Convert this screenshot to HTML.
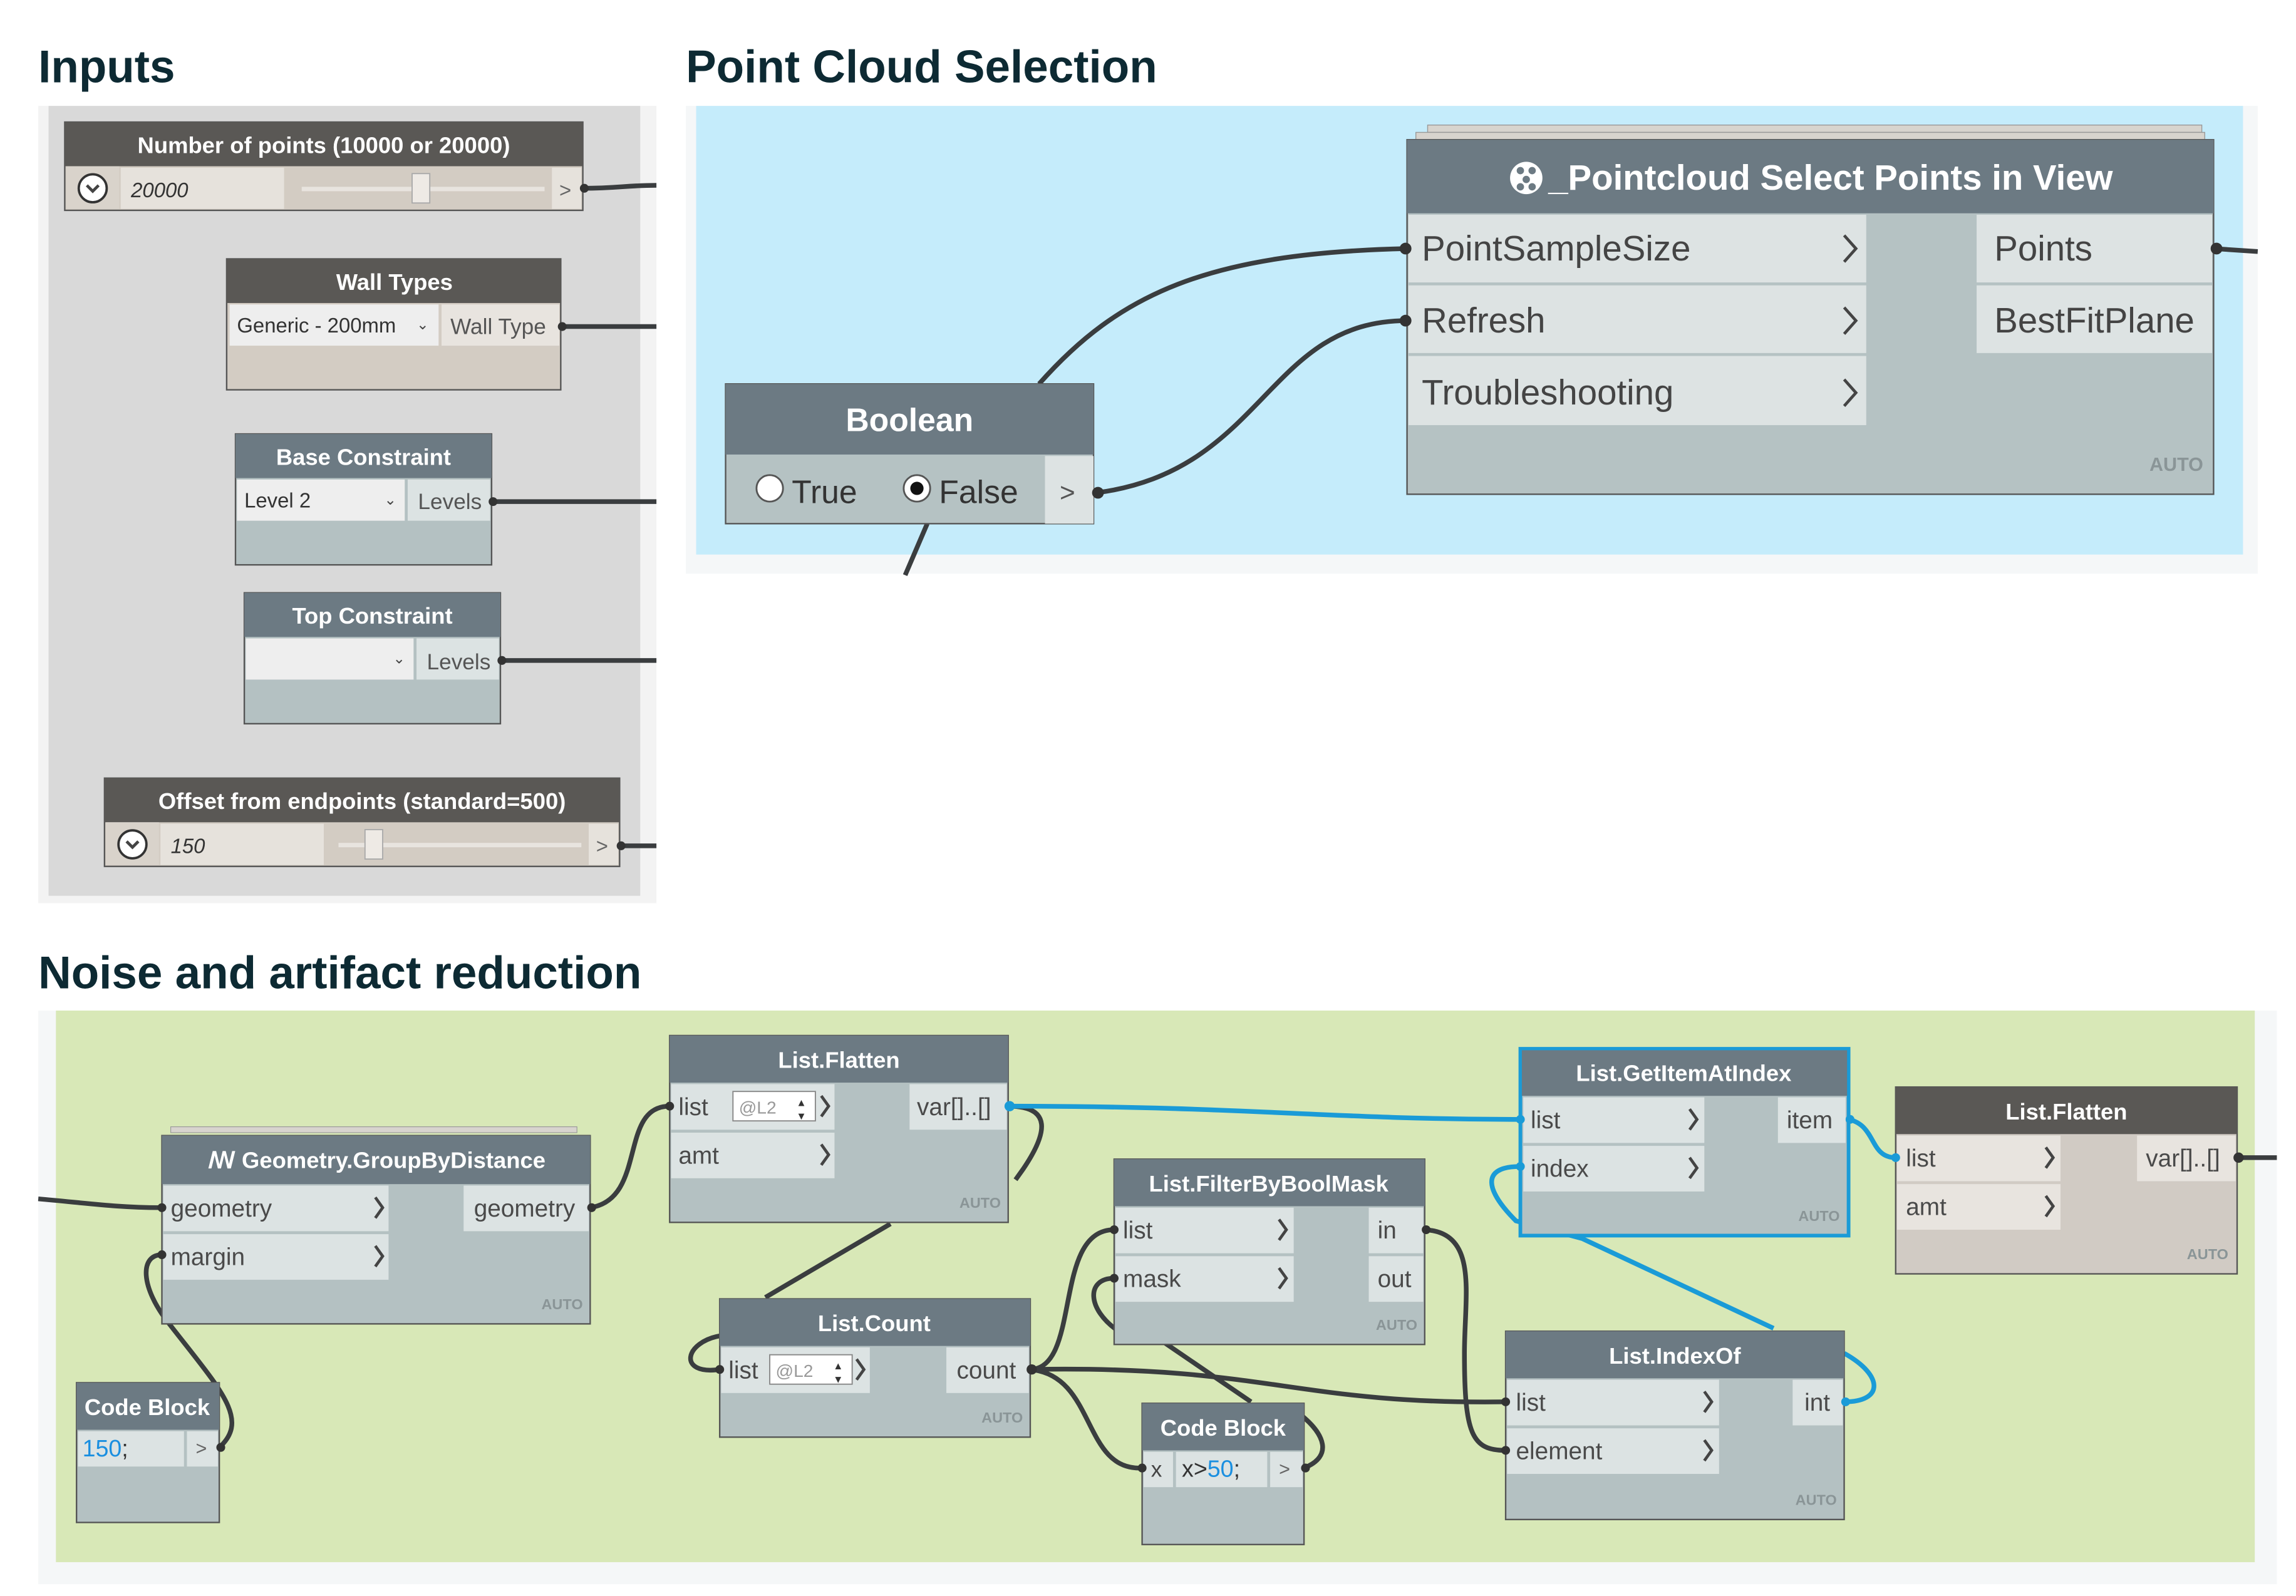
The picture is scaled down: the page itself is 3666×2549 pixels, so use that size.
<!DOCTYPE html>
<html><head><meta charset="utf-8"><style>
html,body{margin:0;padding:0;background:#fff;}
svg{display:block;}
text{font-family:"Liberation Sans",sans-serif;}
.t{font-weight:bold;fill:#0d2a33;font-size:31px;}
.h{fill:#fff;font-weight:bold;font-size:15.5px;text-anchor:middle;}
.r{fill:#4a4a4a;font-size:16.5px;}
.a{fill:#8a9597;font-weight:bold;font-size:10px;text-anchor:end;}
.w{fill:none;stroke:#3a3d3f;stroke-width:3.2;}
.b{fill:none;stroke:#1a9bd7;stroke-width:3.2;}
.ch{fill:none;stroke:#444;stroke-width:2;}
</style></head><body>
<svg width="3666" height="2549" viewBox="0 0 1560 1085" preserveAspectRatio="none" xmlns="http://www.w3.org/2000/svg">
<rect width="1560" height="1085" fill="#fff"/>
<text class="t" x="26" y="56">Inputs</text>
<text class="t" x="466" y="56">Point Cloud Selection</text>
<text class="t" x="26" y="672">Noise and artifact reduction</text>

<rect x="26" y="72" width="420" height="542" fill="#f3f3f3"/>
<rect x="33" y="72" width="402" height="537" fill="#d9d9d9"/>
<g class="w"><path d="M396,128 C420,128 425,126 446,126"/><path d="M381,222 L446,222"/><path d="M334,341 L446,341"/><path d="M340,449 L446,449"/><path d="M421,575 L446,575"/></g>

<rect x="44" y="83" width="352" height="60" fill="#d3ccc3" stroke="#555" stroke-width="1"/>
<rect x="44" y="83" width="352" height="30" fill="#5a5855"/>
<text class="h" x="220" y="104">Number of points (10000 or 20000)</text>
<rect x="45" y="113" width="36" height="29" fill="#d9d3cb"/>
<circle cx="63" cy="128" r="9.5" fill="#fff" stroke="#333" stroke-width="1.6"/>
<path d="M59,126 L63,130 L67,126" class="ch" stroke="#333"/>
<rect x="82" y="114" width="111" height="28" fill="#e6e2dc"/>
<text x="89" y="134" font-size="14" font-style="italic" fill="#333">20000</text>
<rect x="205" y="127" width="165" height="3" fill="#e8e4df"/>
<rect x="280" y="118" width="12" height="20" fill="#eeeae5" stroke="#aaa" stroke-width="0.8"/>
<rect x="375" y="114" width="20" height="28" fill="#e6e2dc"/>
<text x="380" y="134" font-size="14" fill="#666">&gt;</text>
<circle cx="397" cy="128" r="3" fill="#333"/>

<rect x="154" y="176" width="227" height="89" fill="#d3ccc3" stroke="#555" stroke-width="1"/>
<rect x="154" y="176" width="227" height="30" fill="#5a5855"/>
<text class="h" x="268" y="197">Wall Types</text>
<rect x="156" y="207" width="142" height="28" fill="#eeeeee"/>
<text x="161" y="226" font-size="14" fill="#333">Generic - 200mm</text>
<text x="283" y="224" font-size="10" fill="#444">⌄</text>
<rect x="300" y="207" width="80" height="28" fill="#e8e4df"/>
<text x="306" y="227" font-size="15" fill="#555">Wall Type</text>
<circle cx="382" cy="222" r="3" fill="#333"/>

<rect x="160" y="295" width="174" height="89" fill="#b4c1c2" stroke="#555" stroke-width="1"/>
<rect x="160" y="295" width="174" height="30" fill="#6c7a83"/>
<text class="h" x="247" y="316">Base Constraint</text>
<rect x="161" y="326" width="114" height="28" fill="#eeeeee"/>
<text x="166" y="345" font-size="14" fill="#333">Level 2</text>
<text x="261" y="343" font-size="10" fill="#444">⌄</text>
<rect x="277" y="326" width="56" height="28" fill="#dce3e3"/>
<text x="284" y="346" font-size="15" fill="#555">Levels</text>
<circle cx="335" cy="341" r="3" fill="#333"/>

<rect x="166" y="403" width="174" height="89" fill="#b4c1c2" stroke="#555" stroke-width="1"/>
<rect x="166" y="403" width="174" height="30" fill="#6c7a83"/>
<text class="h" x="253" y="424">Top Constraint</text>
<rect x="167" y="434" width="114" height="28" fill="#eeeeee"/>
<text x="267" y="451" font-size="10" fill="#444">⌄</text>
<rect x="283" y="434" width="56" height="28" fill="#dce3e3"/>
<text x="290" y="455" font-size="15" fill="#555">Levels</text>
<circle cx="341" cy="449" r="3" fill="#333"/>

<rect x="71" y="529" width="350" height="60" fill="#d3ccc3" stroke="#555" stroke-width="1"/>
<rect x="71" y="529" width="350" height="30" fill="#5a5855"/>
<text class="h" x="246" y="550">Offset from endpoints (standard=500)</text>
<rect x="72" y="559" width="36" height="29" fill="#d9d3cb"/>
<circle cx="90" cy="574" r="9.5" fill="#fff" stroke="#333" stroke-width="1.6"/>
<path d="M86,572 L90,576 L94,572" class="ch" stroke="#333"/>
<rect x="109" y="560" width="111" height="28" fill="#e6e2dc"/>
<text x="116" y="580" font-size="14" font-style="italic" fill="#333">150</text>
<rect x="230" y="573" width="165" height="3" fill="#e8e4df"/>
<rect x="248" y="564" width="12" height="20" fill="#eeeae5" stroke="#aaa" stroke-width="0.8"/>
<rect x="400" y="560" width="20" height="28" fill="#e6e2dc"/>
<text x="405" y="580" font-size="14" fill="#666">&gt;</text>
<circle cx="422" cy="575" r="3" fill="#333"/>

<rect x="466" y="72" width="1068" height="318" fill="#f5f7f8"/>
<rect x="473" y="72" width="1051" height="305" fill="#c5ecfb"/>
<g class="w" stroke-width="4">
<path d="M706,261 C760,200 820,172 956,169"/>
<path d="M745,335 C860,320 860,218 956,218"/>
<path d="M630,356 L615,391"/>
<path d="M1504,169 L1534,171"/>
</g>
<rect x="970" y="85" width="526" height="5" fill="#d8d4ce" stroke="#999" stroke-width="0.6"/>
<rect x="962" y="90" width="536" height="5" fill="#d8d4ce" stroke="#999" stroke-width="0.6"/>
<rect x="956" y="95" width="548" height="241" fill="#b5c2c3" stroke="#555" stroke-width="1"/>
<rect x="956" y="95" width="548" height="50" fill="#6c7a83"/>
<text x="1052" y="129" fill="#fff" font-size="24" font-weight="bold">_Pointcloud Select Points in View</text>
<circle cx="1037" cy="121" r="11" fill="#fff"/>
<g fill="#6c7a83"><circle cx="1033" cy="116" r="2.5"/><circle cx="1041" cy="116" r="2.5"/><circle cx="1037" cy="122" r="2.5"/><circle cx="1033" cy="127" r="2.5"/><circle cx="1041" cy="127" r="2.5"/></g>
<rect x="957" y="146" width="311" height="46" fill="#dde3e3"/>
<rect x="957" y="194" width="311" height="46" fill="#dde3e3"/>
<rect x="957" y="242" width="311" height="47" fill="#dde3e3"/>
<rect x="1343" y="146" width="160" height="46" fill="#dde3e3"/>
<rect x="1343" y="194" width="160" height="46" fill="#dde3e3"/>
<g font-size="24" fill="#444"><text x="966" y="177">PointSampleSize</text><text x="966" y="226">Refresh</text><text x="966" y="275">Troubleshooting</text>
<text x="1355" y="177">Points</text><text x="1355" y="226">BestFitPlane</text></g>
<g class="ch" stroke-width="3"><path d="M1253,160 L1261,169 L1253,178"/><path d="M1253,209 L1261,218 L1253,227"/><path d="M1253,258 L1261,267 L1253,276"/></g>
<text class="a" x="1497" y="320" style="font-size:13px">AUTO</text>
<circle cx="955" cy="169" r="4" fill="#333"/><circle cx="955" cy="218" r="4" fill="#333"/><circle cx="1506" cy="169" r="4" fill="#333"/>

<rect x="493" y="261" width="250" height="95" fill="#b5c2c3" stroke="#555" stroke-width="1"/>
<rect x="493" y="261" width="250" height="48" fill="#6c7a83"/>
<text class="h" x="618" y="293" style="font-size:22px">Boolean</text>
<circle cx="523" cy="332" r="9" fill="#fff" stroke="#555" stroke-width="1.2"/>
<text x="538" y="342" font-size="22" fill="#333">True</text>
<circle cx="623" cy="332" r="9" fill="#fff" stroke="#555" stroke-width="1.2"/><circle cx="623" cy="332" r="4.5" fill="#111"/>
<text x="638" y="342" font-size="22" fill="#333">False</text>
<rect x="710" y="310" width="33" height="46" fill="#dde3e3"/>
<text x="720" y="341" font-size="18" fill="#555">&gt;</text>
<circle cx="746" cy="335" r="4" fill="#333"/>

<rect x="26" y="687" width="1521" height="390" fill="#f5f7f8"/>
<rect x="38" y="687" width="1494" height="375" fill="#d8e8b7"/>

<g class="w">
<path d="M26,815 C60,818 80,821 110,821"/>
<path d="M401,821 C440,815 420,752 455,752"/>
<path d="M685,752 C715,752 712,770 695,795 L690,802"/>
<path d="M605,832 L520,882"/>
<path d="M490,908 C465,912 460,935 489,931"/>
<path d="M149,984 C170,965 150,945 115,900 C95,875 95,853 110,853"/>
<path d="M700,931 C735,930 715,836 757,836"/>
<path d="M700,931 C860,928 880,955 1023,953"/>
<path d="M700,931 C745,935 735,1000 776,998"/>
<path d="M886,998 C906,990 900,975 884,962"/>
<path d="M850,953 L790,912"/>
<path d="M760,905 C738,890 738,869 757,869"/>
<path d="M968,836 C1005,838 995,880 995,920 C995,975 1000,986 1023,986"/>
<path d="M1520,787 L1547,787"/>
</g>
<g class="b">
<path d="M685,752 C850,752 900,761 1033,761"/>
<path d="M1256,761 C1275,765 1270,787 1288,787"/>
<path d="M1033,793 C1005,793 1010,810 1030,830 L1075,842 L1205,903"/>
<path d="M1253,920 C1280,935 1280,953 1253,953"/>
</g>

<rect x="116" y="766" width="276" height="4" fill="#d8d4ce" stroke="#999" stroke-width="0.5"/>
<rect x="110" y="772" width="291" height="128" fill="#b4c1c2" stroke="#555" stroke-width="1"/>
<rect x="110" y="772" width="291" height="33" fill="#6c7a83"/>
<text class="h" x="256" y="794">ꟿ Geometry.GroupByDistance</text>
<rect x="111" y="806" width="153" height="31" fill="#dce3e3"/><rect x="111" y="839" width="153" height="31" fill="#dce3e3"/>
<rect x="315" y="806" width="85" height="31" fill="#dce3e3"/>
<text class="r" x="116" y="827">geometry</text><text class="r" x="116" y="860">margin</text><text class="r" x="322" y="827">geometry</text>
<g class="ch"><path d="M255,814 L260,821 L255,828"/><path d="M255,847 L260,854 L255,861"/></g>
<text class="a" x="396" y="890">AUTO</text>

<rect x="455" y="704" width="230" height="127" fill="#b4c1c2" stroke="#555" stroke-width="1"/>
<rect x="455" y="704" width="230" height="32" fill="#6c7a83"/>
<text class="h" x="570" y="726">List.Flatten</text>
<rect x="456" y="737" width="111" height="31" fill="#dce3e3"/><rect x="456" y="770" width="111" height="31" fill="#dce3e3"/>
<rect x="618" y="737" width="66" height="31" fill="#dce3e3"/>
<text class="r" x="461" y="758">list</text><text class="r" x="461" y="791">amt</text><text class="r" x="623" y="758">var[]..[]</text>
<rect x="498" y="742" width="56" height="20" fill="#fff" stroke="#888" stroke-width="0.8"/><text x="502" y="757" font-size="12" fill="#999">@L2</text>
<text x="541" y="752" font-size="7" fill="#333">▲</text><text x="541" y="761" font-size="7" fill="#333">▼</text>
<g class="ch"><path d="M558,745 L563,752 L558,759"/><path d="M558,778 L563,785 L558,792"/></g>
<text class="a" x="680" y="821">AUTO</text>

<rect x="1033" y="713" width="223" height="127" fill="#b4c1c2" stroke="#1a9bd7" stroke-width="2.5"/>
<rect x="1034" y="714" width="221" height="31" fill="#6c7a83"/>
<text class="h" x="1144" y="735">List.GetItemAtIndex</text>
<rect x="1035" y="746" width="123" height="31" fill="#dce3e3"/><rect x="1035" y="779" width="123" height="31" fill="#dce3e3"/>
<rect x="1208" y="746" width="46" height="31" fill="#dce3e3"/>
<text class="r" x="1040" y="767">list</text><text class="r" x="1040" y="800">index</text><text class="r" x="1214" y="767">item</text>
<g class="ch"><path d="M1148,754 L1153,761 L1148,768"/><path d="M1148,787 L1153,794 L1148,801"/></g>
<text class="a" x="1250" y="830">AUTO</text>

<rect x="1288" y="739" width="232" height="127" fill="#d1cbc4" stroke="#555" stroke-width="1"/>
<rect x="1288" y="739" width="232" height="32" fill="#5a5855"/>
<text class="h" x="1404" y="761">List.Flatten</text>
<rect x="1289" y="772" width="111" height="31" fill="#e8e4df"/><rect x="1289" y="805" width="111" height="31" fill="#e8e4df"/>
<rect x="1452" y="772" width="67" height="31" fill="#e8e4df"/>
<text class="r" x="1295" y="793">list</text><text class="r" x="1295" y="826">amt</text><text class="r" x="1458" y="793">var[]..[]</text>
<g class="ch"><path d="M1390,780 L1395,787 L1390,794"/><path d="M1390,813 L1395,820 L1390,827"/></g>
<text class="a" x="1514" y="856">AUTO</text>

<rect x="757" y="788" width="211" height="126" fill="#b4c1c2" stroke="#555" stroke-width="1"/>
<rect x="757" y="788" width="211" height="32" fill="#6c7a83"/>
<text class="h" x="862" y="810">List.FilterByBoolMask</text>
<rect x="758" y="821" width="121" height="31" fill="#dce3e3"/><rect x="758" y="854" width="121" height="31" fill="#dce3e3"/>
<rect x="930" y="821" width="37" height="31" fill="#dce3e3"/><rect x="930" y="854" width="37" height="31" fill="#dce3e3"/>
<text class="r" x="763" y="842">list</text><text class="r" x="763" y="875">mask</text><text class="r" x="936" y="842">in</text><text class="r" x="936" y="875">out</text>
<g class="ch"><path d="M869,829 L874,836 L869,843"/><path d="M869,862 L874,869 L869,876"/></g>
<text class="a" x="963" y="904">AUTO</text>

<rect x="489" y="883" width="211" height="94" fill="#b4c1c2" stroke="#555" stroke-width="1"/>
<rect x="489" y="883" width="211" height="32" fill="#6c7a83"/>
<text class="h" x="594" y="905">List.Count</text>
<rect x="490" y="916" width="101" height="31" fill="#dce3e3"/>
<rect x="643" y="916" width="56" height="31" fill="#dce3e3"/>
<text class="r" x="495" y="937">list</text><text class="r" x="650" y="937">count</text>
<rect x="523" y="921" width="56" height="20" fill="#fff" stroke="#888" stroke-width="0.8"/><text x="527" y="936" font-size="12" fill="#999">@L2</text>
<text x="566" y="931" font-size="7" fill="#333">▲</text><text x="566" y="940" font-size="7" fill="#333">▼</text>
<path d="M582,924 L587,931 L582,938" class="ch"/>
<text class="a" x="695" y="967">AUTO</text>

<rect x="52" y="940" width="97" height="95" fill="#b4c1c2" stroke="#555" stroke-width="1"/>
<rect x="52" y="940" width="97" height="32" fill="#6c7a83"/>
<text class="h" x="100" y="962">Code Block</text>
<rect x="53" y="973" width="72" height="24" fill="#dce3e3"/><rect x="127" y="973" width="21" height="24" fill="#dce3e3"/>
<text x="56" y="990" font-size="16" font-family="Liberation Mono" fill="#1a8fe0">150<tspan fill="#333">;</tspan></text>
<text x="133" y="989" font-size="13" fill="#666">&gt;</text>

<rect x="776" y="954" width="110" height="96" fill="#b4c1c2" stroke="#555" stroke-width="1"/>
<rect x="776" y="954" width="110" height="32" fill="#6c7a83"/>
<text class="h" x="831" y="976">Code Block</text>
<rect x="777" y="987" width="20" height="24" fill="#dce3e3"/><rect x="799" y="987" width="62" height="24" fill="#dce3e3"/><rect x="863" y="987" width="22" height="24" fill="#dce3e3"/>
<text x="782" y="1004" font-size="15" fill="#444">x</text>
<text x="803" y="1004" font-size="16" font-family="Liberation Mono" fill="#333">x&gt;<tspan fill="#1a8fe0">50</tspan>;</text>
<text x="869" y="1003" font-size="13" fill="#666">&gt;</text>

<rect x="1023" y="905" width="230" height="128" fill="#b4c1c2" stroke="#555" stroke-width="1"/>
<rect x="1023" y="905" width="230" height="32" fill="#6c7a83"/>
<text class="h" x="1138" y="927">List.IndexOf</text>
<rect x="1024" y="938" width="144" height="31" fill="#dce3e3"/><rect x="1024" y="971" width="144" height="31" fill="#dce3e3"/>
<rect x="1218" y="938" width="34" height="31" fill="#dce3e3"/>
<text class="r" x="1030" y="959">list</text><text class="r" x="1030" y="992">element</text><text class="r" x="1226" y="959">int</text>
<g class="ch"><path d="M1158,946 L1163,953 L1158,960"/><path d="M1158,979 L1163,986 L1158,993"/></g>
<text class="a" x="1248" y="1023">AUTO</text>

<g fill="#333"><circle cx="110" cy="821" r="3"/><circle cx="110" cy="853" r="3"/><circle cx="402" cy="821" r="3"/><circle cx="455" cy="752" r="3"/><circle cx="489" cy="931" r="3"/><circle cx="701" cy="931" r="3.5"/><circle cx="757" cy="836" r="3"/><circle cx="757" cy="869" r="3"/><circle cx="969" cy="836" r="3"/><circle cx="1023" cy="953" r="3"/><circle cx="1023" cy="986" r="3"/><circle cx="150" cy="984" r="3"/><circle cx="776" cy="998" r="3"/><circle cx="887" cy="998" r="3"/><circle cx="1521" cy="787" r="3.5"/></g>
<g fill="#1a9bd7"><circle cx="686" cy="752" r="3.5"/><circle cx="1033" cy="761" r="3"/><circle cx="1033" cy="793" r="3"/><circle cx="1257" cy="761" r="3"/><circle cx="1288" cy="787" r="3"/><circle cx="1254" cy="953" r="3"/></g>
</svg>
</body></html>
